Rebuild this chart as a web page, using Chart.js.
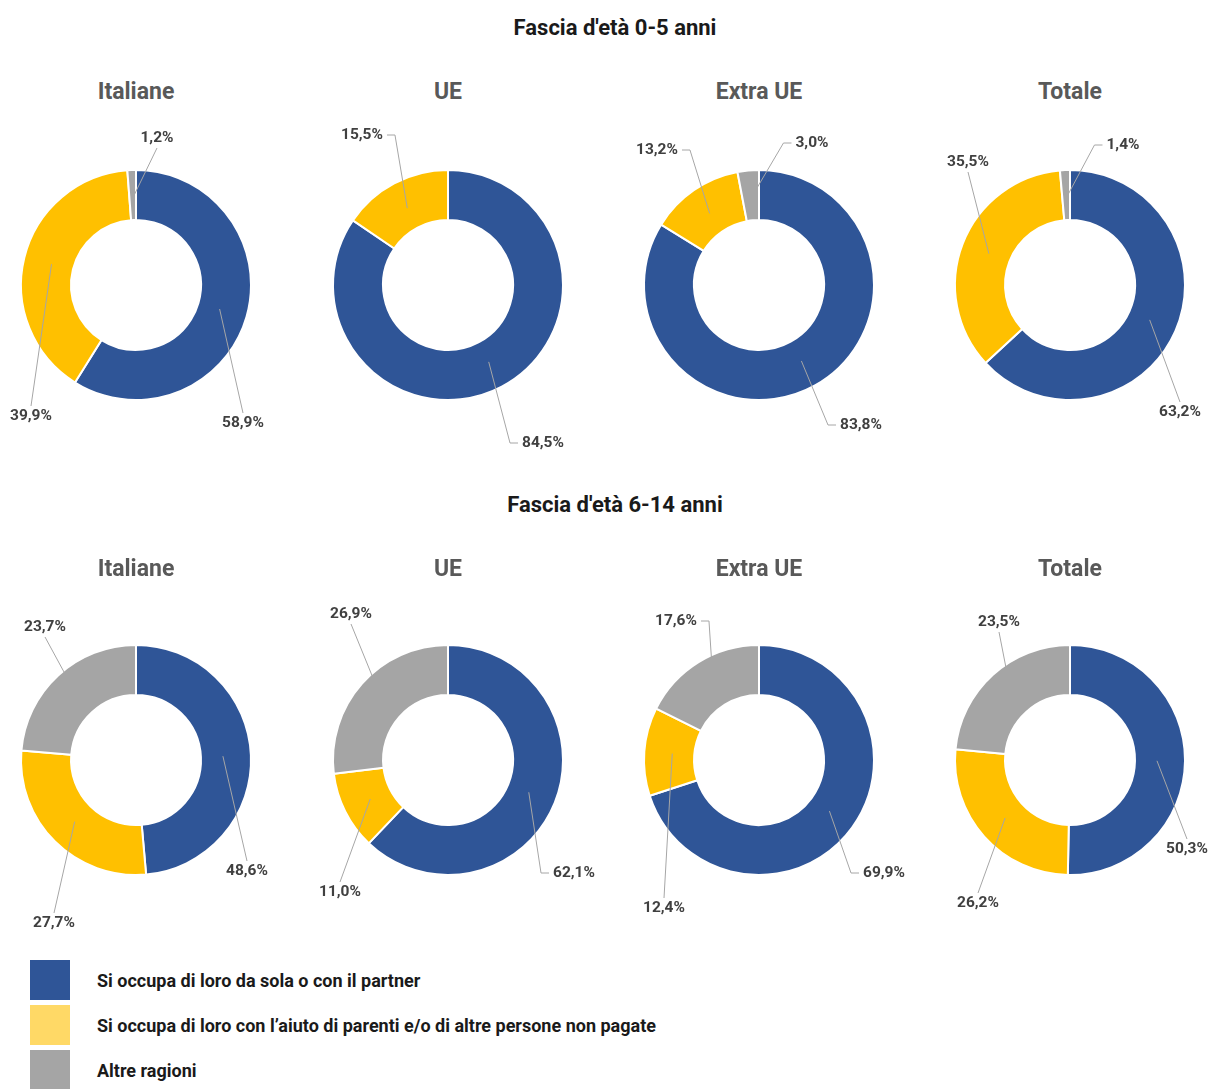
<!DOCTYPE html>
<html>
<head>
<meta charset="utf-8">
<script src="https://cdn.jsdelivr.net/npm/chart.js@4.4.1/dist/chart.umd.min.js"></script>
<style>
    html, body { margin: 0; padding: 0; background: #fff; overflow: hidden; }
    body { width: 1213px; height: 1089px; position: relative; font-family: "Roboto", "Liberation Sans", sans-serif; }
    .main-title { position: absolute; left: 0; width: 1230px; text-align: center; font-weight: bold; font-size: 22px; color: #1a1a1a; }
    .sub-title { position: absolute; width: 200px; text-align: center; font-weight: bold; font-size: 23px; color: #595959; }
    .chart-box { position: absolute; width: 320px; height: 360px; }
    .legend-row { position: absolute; left: 30px; height: 40px; display: flex; align-items: center; }
    .legend-swatch { width: 40px; height: 40px; margin-right: 27px; }
    .legend-text { font-weight: bold; font-size: 18px; color: #1a1a1a; }
</style>
</head>
<body>
<div class="main-title" style="top: 15px;">Fascia d'età 0-5 anni</div>
<div class="main-title" style="top: 492px;">Fascia d'età 6-14 anni</div>
<div id="charts"></div>
<div id="legend"></div>

<script>
// Groups and categories
const groups = ['Italiane', 'UE', 'Extra UE', 'Totale'];
const categories = [
    'Si occupa di loro da sola o con il partner',
    'Si occupa di loro con l\u2019aiuto di parenti e/o di altre persone non pagate',
    'Altre ragioni'
];

// Fascia d'età 0-5 anni (%), per group
const sola05 = [58.9, 84.5, 83.8, 63.2];
const aiuto05 = [39.9, 15.5, 13.2, 35.5];
const altre05 = [1.2, 0, 3.0, 1.4];

// Fascia d'età 6-14 anni (%), per group
const sola614 = [48.6, 62.1, 69.9, 50.3];
const aiuto614 = [27.7, 11.0, 12.4, 26.2];
const altre614 = [23.7, 26.9, 17.6, 23.5];

// Colors
const sliceColors = ['#2F5597', '#FFC000', '#A5A5A5'];
const legendColors = ['#2F5597', '#FFD966', '#A5A5A5'];

// Layout: doughnut centers and label offsets (text center relative to doughnut center)
const centersX = [136, 448, 759, 1070];
const rowCenterY = [285, 760];
const rowSubtitleY = [78, 555];
const labelOffsets = [
    [[[107, 138], [-105, 131], [21, -147]],
     [[95, 158], [-86, -150], [0, 0]],
     [[102, 140], [-102, -135], [53, -142]],
     [[110, 127], [-102, -123], [53, -140]]],
    [[[111, 111], [-82, 163], [-91, -133]],
     [[126, 113], [-108, 132], [-97, -146]],
     [[125, 113], [-95, 148], [-83, -139]],
     [[117, 89], [-92, 143], [-71, -138]]]
];

const BOX_W = 320, BOX_H = 360;
const OUTER_R = 115;

function formatPct(v) {
    return v.toFixed(1).replace('.', ',') + '%';
}

// Draws value labels with leader lines
const leaderLabels = {
    id: 'leaderLabels',
    afterDatasetsDraw(chart, args, opts) {
        const ctx = chart.ctx;
        const meta = chart.getDatasetMeta(0);
        const values = chart.data.datasets[0].data;
        ctx.save();
        ctx.font = 'bold 15.5px "Roboto", sans-serif';
        ctx.textAlign = 'center';
        ctx.textBaseline = 'middle';
        meta.data.forEach((arc, i) => {
            const v = values[i];
            if (!v) return;
            const p = arc.getProps(['x', 'y', 'startAngle', 'endAngle', 'innerRadius', 'outerRadius'], true);
            const mid = (p.startAngle + p.endAngle) / 2;
            const r = (p.innerRadius + p.outerRadius) / 2 - 3;
            const ax = p.x + Math.cos(mid) * r;
            const ay = p.y + Math.sin(mid) * r;
            const off = opts.offsets[i];
            const lx = p.x + off[0];
            const ly = p.y + off[1];
            const text = formatPct(v);
            const halfW = ctx.measureText(text).width / 2;

            ctx.strokeStyle = '#A6A6A6';
            ctx.lineWidth = 1;
            ctx.beginPath();
            ctx.moveTo(ax, ay);
            const dx = lx - ax;
            if (Math.abs(dx) > 36) {
                const side = dx > 0 ? -1 : 1;
                const ex = lx + side * (halfW + 4);
                ctx.lineTo(ex + side * 8, ly);
                ctx.lineTo(ex, ly);
            } else {
                const ey = ly + (ay < ly ? -10 : 10);
                ctx.lineTo(lx, ey);
            }
            ctx.stroke();

            ctx.fillStyle = '#404040';
            ctx.fillText(text, lx, ly);
        });
        ctx.restore();
    }
};

function createDoughnut(row, col, values) {
    const cx = centersX[col];
    const cy = rowCenterY[row];

    const sub = document.createElement('div');
    sub.className = 'sub-title';
    sub.style.left = (cx - 100) + 'px';
    sub.style.top = rowSubtitleY[row] + 'px';
    sub.textContent = groups[col];
    document.body.appendChild(sub);

    const box = document.createElement('div');
    box.className = 'chart-box';
    box.style.left = (cx - BOX_W / 2) + 'px';
    box.style.top = (cy - BOX_H / 2) + 'px';
    const canvas = document.createElement('canvas');
    box.appendChild(canvas);
    document.getElementById('charts').appendChild(box);

    return new Chart(canvas.getContext('2d'), {
        type: 'doughnut',
        data: {
            labels: categories,
            datasets: [{
                data: values,
                backgroundColor: sliceColors,
                borderColor: '#FFFFFF',
                borderWidth: 2
            }]
        },
        options: {
            responsive: true,
            maintainAspectRatio: false,
            animation: false,
            radius: OUTER_R,
            cutout: '56.5%',
            layout: { padding: 0 },
            plugins: {
                legend: { display: false },
                title: { display: false },
                tooltip: { enabled: false },
                leaderLabels: { offsets: labelOffsets[row][col] }
            }
        },
        plugins: [leaderLabels]
    });
}

const rows = [
    [sola05, aiuto05, altre05],
    [sola614, aiuto614, altre614]
];

rows.forEach((series, row) => {
    groups.forEach((g, col) => {
        createDoughnut(row, col, series.map(s => s[col]));
    });
});

// Legend
const legendTops = [960, 1005, 1050];
categories.forEach((label, i) => {
    const item = document.createElement('div');
    item.className = 'legend-row';
    item.style.top = legendTops[i] + 'px';
    item.innerHTML = `<div class="legend-swatch" style="background:${legendColors[i]}"></div><div class="legend-text">${label}</div>`;
    document.getElementById('legend').appendChild(item);
});
</script>
</body>
</html>
